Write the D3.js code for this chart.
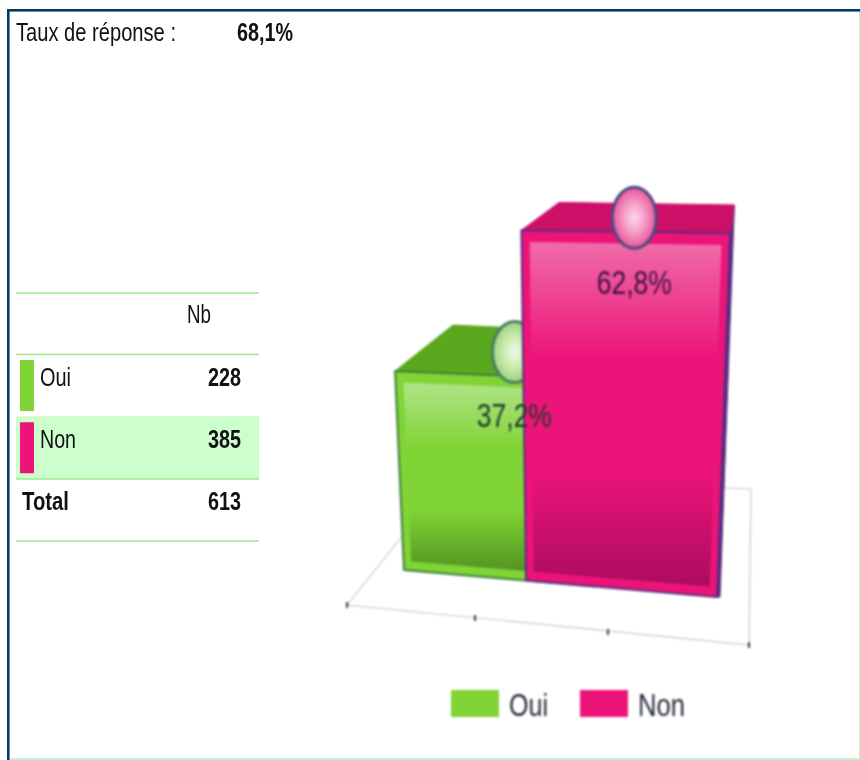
<!DOCTYPE html>
<html>
<head>
<meta charset="utf-8">
<script src="https://cdn.jsdelivr.net/npm/d3@7"></script>
<style>
  html, body { margin: 0; padding: 0; background: #fff; }
  svg { display: block; }
  text { font-family: "Liberation Sans", Arial, sans-serif; }
</style>
</head>
<body>
<svg id="chart" width="860" height="760"></svg>
<script>
const categories = ['Oui', 'Non'];
const counts = [228, 385];
const percents = [37.2, 62.8];
const totalCount = 613;
const responseRate = '68,1%';
const floorTicks = [0, 1, 2, 3];

const greenColors = { face: '#80d435', top: '#5aa81e', line: '#3d7d3e', light: '#b0e488', dark: '#508f20', ball: '#d2f0bc', ballEdge: '#4a7d6a' };
const pinkColors = { face: '#ec1478', top: '#cc1068', line: '#5b2d82', light: '#f06ca8', dark: '#ac0c60', ball: '#f7a8cd', ballEdge: '#4e4a80' };
const colors = [greenColors, pinkColors];

const svg = d3.select('#chart');
const defs = svg.append('defs');

const fr = v => String(v).replace('.', ',');

// small helper, the fonts in the picture are narrower than Liberation Sans
function label(parent, str, x, y, size, width, opts = {}) {
  return parent.append('text')
    .attr('x', x)
    .attr('y', y)
    .attr('font-size', size)
    .attr('font-weight', opts.bold ? 'bold' : 'normal')
    .attr('fill', opts.fill || '#111')
    .attr('text-anchor', opts.anchor || 'start')
    .attr('textLength', width)
    .attr('lengthAdjust', 'spacingAndGlyphs')
    .text(str);
}

// frame
svg.append('rect').attr('x', 9).attr('y', 11).attr('width', 851).attr('height', 748).attr('fill', 'none').attr('stroke', '#b5ecc0').attr('stroke-width', 1.5);
svg.append('rect').attr('x', 7).attr('y', 9).attr('width', 853).attr('height', 2.5).attr('fill', '#003a60');
svg.append('rect').attr('x', 7).attr('y', 9).attr('width', 2.5).attr('height', 751).attr('fill', '#003a60');

// header
const header = svg.append('g').style('filter', 'blur(0.3px)');
label(header, 'Taux de réponse :', 16, 41, 25, 160);
label(header, responseRate, 237, 41, 25, 56, { bold: true });

// table
const table = svg.append('g').style('filter', 'blur(0.3px)');
const rowY = d3.scaleBand().domain(categories).range([354.5, 479]);
table.append('rect').attr('x', 16).attr('y', rowY('Non') - 0.5).attr('width', 243).attr('height', rowY.bandwidth() + 0.5).attr('fill', '#ccffcc');
[293, 354.5, 479, 541].forEach(y => {
  table.append('line').attr('x1', 16).attr('x2', 259).attr('y1', y).attr('y2', y).attr('stroke', '#a0e890').attr('stroke-width', 1.5);
});
label(table, 'Nb', 187, 323, 25, 24);
categories.forEach((c, i) => {
  const y = rowY(c);
  table.append('rect').attr('x', 20).attr('y', y + 5.5).attr('width', 14).attr('height', 51).attr('fill', colors[i].face);
  label(table, c, 40, y + 31, 25, c === 'Oui' ? 31 : 36);
  label(table, counts[i], 208, y + 31, 25, 33, { bold: true });
});
label(table, 'Total', 22, 510, 25, 47, { bold: true });
label(table, totalCount, 208, 510, 25, 33, { bold: true });

// 3d chart
const yScale = d3.scalePow().exponent(1.032).domain([0, 100]).range([0, 552]);
const xScale = d3.scalePoint().domain(categories).range([0, 0.39]);
const barWidth = 0.61;

function front(u, v) {
  const h = yScale(v) * (1 + 0.065 * u);
  const lean = -0.045 + 0.081 * u;
  return [404 + 313 * u + lean * h, 570 + 27 * u - h];
}
function back(p) {
  return [p[0] + 0.16 * (757 - p[0]), p[1] + 0.128 * (12 - p[1])];
}
const poly = d3.line().curve(d3.curveLinearClosed);

const chart = svg.append('g').style('filter', 'blur(0.8px)');

// floor and wall
const floorX = d3.scaleLinear().domain(floorTicks).range([347, 475, 608, 749]);
const floorY = d3.scaleLinear().domain(floorTicks).range([605, 618, 632, 645]);
chart.append('path')
  .attr('d', d3.line()([[403, 535], [347, 605], [749, 645], [751, 489], [722, 488]]))
  .attr('fill', 'none')
  .attr('stroke', '#c8c8c0')
  .attr('stroke-width', 1.2);
chart.selectAll('.tick')
  .data(floorTicks)
  .enter().append('line')
  .attr('class', 'tick')
  .attr('x1', d => floorX(d))
  .attr('x2', d => floorX(d))
  .attr('y1', d => floorY(d) - 3)
  .attr('y2', d => floorY(d) + 3)
  .attr('stroke', '#111')
  .attr('stroke-width', 1.6);

function drawBar(i) {
  const cat = categories[i];
  const v = percents[i];
  const col = colors[i];
  const u0 = xScale(cat);
  const u1 = u0 + barWidth;
  const g = chart.append('g');

  const grad = defs.append('linearGradient').attr('id', 'grad' + i).attr('x1', 0).attr('x2', 0).attr('y1', 0).attr('y2', 1);
  [[0, col.light], [0.34, col.face], [0.66, col.face], [1, col.dark]].forEach(s => {
    grad.append('stop').attr('offset', s[0]).attr('stop-color', s[1]);
  });
  const ballGrad = defs.append('radialGradient').attr('id', 'ball' + i);
  [[0, i === 0 ? '#f0fae8' : '#fbd8ea'], [0.4, col.ball], [1, i === 0 ? '#9fd27c' : '#e8559b']].forEach(s => {
    ballGrad.append('stop').attr('offset', s[0]).attr('stop-color', s[1]);
  });

  const tl = front(u0, v), tr = front(u1, v), bl = front(u0, 0), br = front(u1, 0);

  // right side
  g.append('path').attr('d', poly([tr, back(tr), [br[0] + 3, br[1]], br])).attr('fill', col.line).attr('stroke', col.line);
  // top
  g.append('path').attr('d', poly([tl, tr, back(tr), back(tl)])).attr('fill', col.top).attr('stroke', col.top).attr('stroke-width', 1);
  // front
  g.append('path').attr('d', poly([tl, tr, br, bl])).attr('fill', col.face).attr('stroke', col.line).attr('stroke-width', 2).attr('stroke-linejoin', 'round');
  // inner panel
  const iv0 = 1.9, iv1 = v - 2;
  const du = 0.024;
  g.append('path')
    .attr('d', poly([front(u0 + du, iv1), front(u1 - du, iv1), front(u1 - du, iv0), front(u0 + du, iv0)]))
    .attr('fill', `url(#grad${i})`);

  // ball sits in the middle of the top face
  const corners = [tl, tr, back(tr), back(tl)];
  const cx = d3.mean(corners, d => d[0]) - 2;
  g.append('ellipse')
    .attr('cx', cx)
    .attr('cy', d3.mean(corners, d => d[1]))
    .attr('rx', 22)
    .attr('ry', 30.5)
    .attr('fill', `url(#ball${i})`)
    .attr('stroke', col.ballEdge)
    .attr('stroke-width', 3);

  return [cx, tl[1]];
}

const anchors = categories.map((c, i) => drawBar(i));

// values go on top of both bars
percents.forEach((p, i) => {
  label(chart, fr(p) + '%', anchors[i][0], anchors[i][1] + (i === 0 ? 56 : 64), 33, 75, { anchor: 'middle', fill: i === 0 ? '#1c3a2a' : '#3c1240' });
});

// legend
const legend = chart.append('g');
const legendX = d3.scalePoint().domain(categories).range([451, 580]);
categories.forEach((c, i) => {
  legend.append('rect').attr('x', legendX(c)).attr('y', 690).attr('width', 48).attr('height', 27).attr('fill', colors[i].face);
  label(legend, c, legendX(c) + 58, 716, 32, c === 'Oui' ? 39 : 47, { fill: '#262c3a' });
});
</script>
</body>
</html>
